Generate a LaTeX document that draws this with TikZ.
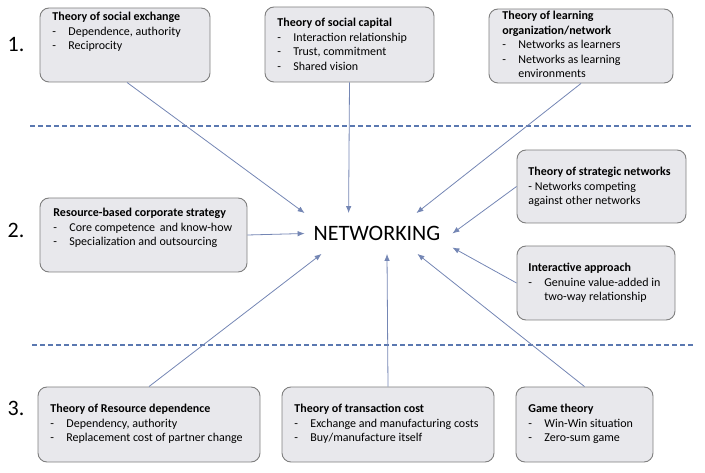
\documentclass[tikz,border=0pt]{standalone}
\usepackage{fontspec}
\setmainfont{Carlito}
\usepackage{tikz}
\usetikzlibrary{arrows,shapes,positioning,arrows.meta,calc}

\definecolor{boxfill}{HTML}{E8E8EC}
\definecolor{boxline}{HTML}{7F7F7F}
\definecolor{arrowcol}{HTML}{7486B4}
\definecolor{dashcol}{HTML}{5A78B0}

\newcommand{\itm}[1]{\makebox[16pt][l]{-}#1}
\newcommand{\ind}{\hspace*{16pt}}

\begin{document}
\begin{tikzpicture}[x=1pt, y=-1pt, >={Latex[length=7pt,width=5.5pt]}, thick]

        \tikzstyle{theory} = [draw=boxline, fill=boxfill, line width=0.9pt, rounded corners=9pt, inner sep=0pt]
        \tikzstyle{txt} = [anchor=north west, inner sep=0pt, align=left, font=\fontsize{12}{14.5}\selectfont]
        \tikzstyle{num} = [font=\fontsize{22}{24}\selectfont]
        \tikzstyle{feed} = [draw=arrowcol, line width=0.8pt, ->]
        \tikzstyle{sep} = [draw=dashcol, line width=1.2pt, dash pattern=on 5pt off 3pt]

        \useasboundingbox (0,0) rectangle (705,473);

        % level numbers
        \node [num] (n1) at (16,45) {1.};
        \node [num] (n2) at (16,230) {2.};
        \node [num] (n3) at (16,408) {3.};

        % separators
        \coordinate (s1a) at (30,126);
        \coordinate (s1b) at (693,126);
        \coordinate (s2a) at (32,345);
        \coordinate (s2b) at (693,345);
        \draw [sep] (s1a) -- (s1b);
        \draw [sep] (s2a) -- (s2b);

        % centre
        \node [inner sep=0pt, minimum width=150pt, minimum height=40pt, font=\fontsize{22}{24}\selectfont] (net) at (377,233.5) {NETWORKING};

        % boxes
        \node [theory, minimum width=170pt, minimum height=74pt] (sx) at (125,45) {};
        \node [txt] (sx text) at (52,12) {\textbf{Theory of social exchange}\\\itm{Dependence, authority}\\\itm{Reciprocity}};

        \node [theory, minimum width=169pt, minimum height=75pt] (sc) at (349.5,44.5) {};
        \node [txt] (sc text) at (277,18) {\textbf{Theory of social capital}\\\itm{Interaction relationship}\\\itm{Trust, commitment}\\\itm{Shared vision}};

        \node [theory, minimum width=184pt, minimum height=74pt] (lo) at (581,46) {};
        \node [txt] (lo text) at (502,11) {\textbf{Theory of learning}\\\textbf{organization/network}\\\itm{Networks as learners}\\\itm{Networks as learning}\\\ind environments};

        \node [theory, minimum width=207pt, minimum height=74pt] (rb) at (143.5,235) {};
        \node [txt] (rb text) at (53,208) {\textbf{Resource-based corporate strategy}\\\itm{Core competence\, and know-how}\\\itm{Specialization and outsourcing}};

        \node [theory, minimum width=169pt, minimum height=73pt] (sn) at (601.5,186.5) {};
        \node [txt] (sn text) at (528,167) {\textbf{Theory of strategic networks}\\- Networks competing\\against other networks};

        \node [theory, minimum width=158pt, minimum height=74pt] (ia) at (596,283) {};
        \node [txt] (ia text) at (528,263) {\textbf{Interactive approach}\\\itm{Genuine value-added in}\\\ind two-way relationship};

        \node [theory, minimum width=222pt, minimum height=75pt] (rd) at (149,424.5) {};
        \node [txt] (rd text) at (50,404) {\textbf{Theory of Resource dependence}\\\itm{Dependency, authority}\\\itm{Replacement cost of partner change}};

        \node [theory, minimum width=212pt, minimum height=75pt] (tc) at (388,424.5) {};
        \node [txt] (tc text) at (294,404) {\textbf{Theory of transaction cost}\\\itm{Exchange and manufacturing costs}\\\itm{Buy/manufacture itself}};

        \node [theory, minimum width=137pt, minimum height=75pt] (gt) at (584.5,424.5) {};
        \node [txt] (gt text) at (528,404) {\textbf{Game theory}\\\itm{Win-Win situation}\\\itm{Zero-sum game}};

        % arrows to the centre
        \draw [feed] ([xshift=2pt]sx.south) -- ([xshift=3pt]net.north west);
        \draw [feed] (sc.south) -- ([xshift=47pt]net.north west);
        \draw [feed] (lo.south) -- ([xshift=-36pt]net.north east);
        \draw [feed] (rb.east) -- ([xshift=3pt]net.west);
        \draw [feed] (sn.west) -- (net.east);
        \draw [feed] (ia.west) -- ([yshift=-14pt]net.east);
        \draw [feed] (rd.north) -- ([xshift=20pt]net.south west);
        \draw [feed] (tc.north) -- ([xshift=10pt]net.south);
        \draw [feed] (gt.north) -- ([xshift=-35pt]net.south east);

\end{tikzpicture}
\end{document}
